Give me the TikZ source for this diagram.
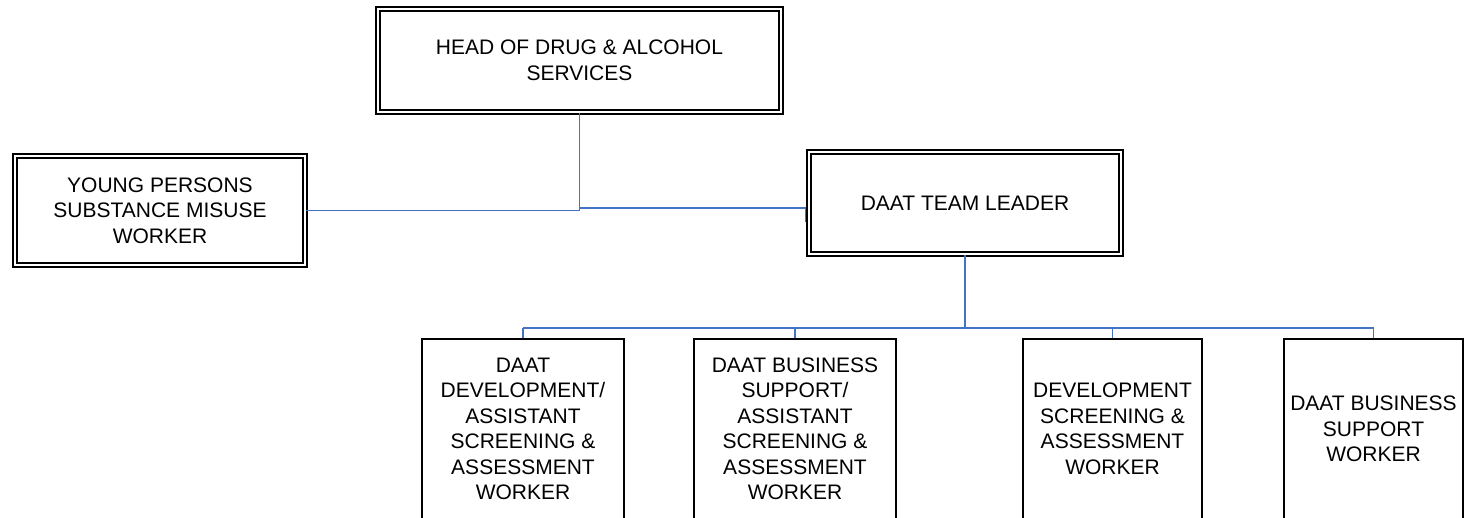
\documentclass[tikz,border=0pt]{standalone}
\usepackage{fontspec}
\setmainfont{Liberation Sans}
\definecolor{conn}{RGB}{68,114,196}
\begin{document}
\begin{tikzpicture}[x=1pt,y=-1pt,
  lbl/.style={font=\fontsize{21}{25.5}\selectfont, align=center, inner sep=0pt},
  dbox/.style={lbl, rectangle, draw=black, line width=1.6pt, double=white, double distance=2.6pt},
  sbox/.style={lbl, rectangle, draw=black, line width=1.8pt, minimum width=#1, minimum height=180pt},
  thinc/.style={draw=conn, line width=1.3pt},
  thickc/.style={draw=conn, line width=2.3pt}]
\useasboundingbox (0,0) rectangle (1474,518);
\clip (0,0) rectangle (1474,518);

\node[dbox, minimum width=403pt, minimum height=103pt] (head) at (579.5,60.5) {HEAD OF DRUG \& ALCOHOL\\SERVICES};
\node[dbox, minimum width=290pt, minimum height=109pt] (young) at (160,210.5) {YOUNG PERSONS\\SUBSTANCE MISUSE\\WORKER};
\node[dbox, minimum width=312pt, minimum height=102pt] (team) at (965,203) {DAAT TEAM LEADER};

\node[sbox=202pt] (b1) at (523,429) {DAAT\\DEVELOPMENT/\\ASSISTANT\\SCREENING \&\\ASSESSMENT\\WORKER};
\node[sbox=202pt] (b2) at (795,429) {DAAT BUSINESS\\SUPPORT/\\ASSISTANT\\SCREENING \&\\ASSESSMENT\\WORKER};
\node[sbox=179pt] (b3) at (1112.5,429) {DEVELOPMENT\\SCREENING \&\\ASSESSMENT\\WORKER};
\node[sbox=179pt] (b4) at (1373.5,429) {DAAT BUSINESS\\SUPPORT\\WORKER};

% upper connectors
\coordinate (j) at (head.south |- young.east);
\coordinate (lvl) at (0,208);
\draw[thinc] (head.south) -- (j);
\draw[draw=conn, line width=1pt] (young.east) -- (j);
\draw[thinc] (j |- lvl) -- ([xshift=-2.5pt]team.west |- lvl);
\coordinate (tk) at ([xshift=-2.5pt]team.west);
\draw[thinc] (tk |- lvl) -- ([yshift=-14pt]tk |- lvl);

% lower connectors
\coordinate (bar) at (966,328);
\draw[thickc] (team.south) -- (team.south |- bar);
\draw[thinc] (b1.north |- bar) -- (b4.north |- bar);
\foreach \b in {b1,b2,b3,b4} \draw[thinc] (\b.north |- bar) -- (\b.north);
\end{tikzpicture}
\end{document}
